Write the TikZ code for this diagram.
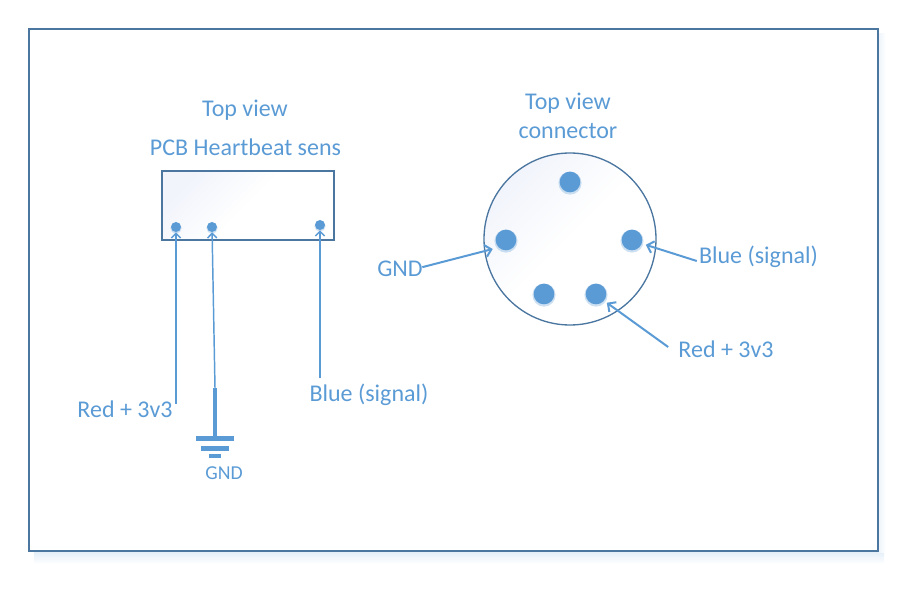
\documentclass[tikz,border=0pt]{standalone}
\usepackage{fontspec}
\setmainfont{Carlito}
\usetikzlibrary{arrows.meta,shadows}
\definecolor{framecol}{HTML}{4A76A0}
\definecolor{pincol}{HTML}{5B9BD5}
\definecolor{tintcol}{HTML}{F1F4FB}
\tikzset{
    lbl/.style={text=pincol,font=\fontsize{18}{21}\selectfont,inner sep=0pt},
    halo/.style={drop shadow={shadow xshift=0pt,shadow yshift=-0.7pt,shadow scale=1.12,opacity=0.3,fill=pincol}},
    bigpin/.style={circle,fill=pincol,minimum size=15.5pt,inner sep=0pt,halo},
    smallpin/.style={circle,fill=pincol,minimum size=7.5pt,inner sep=0pt,halo},
    wire/.style={pincol,line width=1.1pt,-{Straight Barb[length=3.5pt,width=7pt]}},
    thickwire/.style={wire,line width=1.5pt,-{Straight Barb[length=4.5pt,width=9pt]}},
    bar/.style={fill=pincol,draw=none},
    tinted/.style={left color=tintcol,right color=white,middle color=white,shading angle=45}
}
\begin{document}
\begin{tikzpicture}[x=0.75pt,y=-0.75pt]
        \useasboundingbox (0,0) rectangle (907,591);

        % frame
        \shade[top color=pincol!16,bottom color=white] (34,552) rectangle (884,564);
        \shade[left color=pincol!10,right color=white] (879,34) rectangle (886,552);
        \draw[framecol,line width=1.6pt] (29,29) rectangle (878,551);

        % pcb
        \path[tinted] (162,171) rectangle (334,240);
        \draw[framecol,line width=1.2pt] (162,171) rectangle (334,240);
        \node[smallpin] (pcbred) at (176,227) {};
        \node[smallpin] (pcbgnd) at (212,227) {};
        \node[smallpin] (pcbblue) at (320,225) {};

        \node[lbl] (pcbtop) at (245,110) {Top view};
        \node[lbl] (pcbname) at (245.5,147) {PCB Heartbeat sens};
        \node[lbl] (pcbredlbl) at (125,409) {Red + 3v3};
        \node[lbl] (pcbbluelbl) at (369,395) {Blue (signal)};
        \node[lbl,font=\fontsize{14.8}{17}\selectfont] (pcbgndlbl) at (224,473) {GND};

        \coordinate (redend) at (176,404);
        \coordinate (gndend) at (215,388);
        \coordinate (blueend) at (320,378);
        \coordinate (gndbar) at (215,437);
        \draw[wire] (redend) -- (pcbred);
        \draw[wire] (gndend) -- (pcbgnd);
        \draw[wire] (blueend) -- (pcbblue);

        % ground symbol
        \draw[pincol,line width=3pt] (gndend) -- (gndbar);
        \fill[bar] (196,436) rectangle (234,441);
        \fill[bar] (201,446) rectangle (229,451);
        \fill[bar] (209,454) rectangle (221,458);

        % connector
        \shade[tinted] (570,239) circle[radius=86];
        \node[draw=framecol,line width=1pt,circle,minimum size=129pt,inner sep=0pt] (conn) at (570,239) {};
        \node[bigpin] (connnc) at (570,182) {};
        \node[bigpin] (conngnd) at (506,240) {};
        \node[bigpin] (connblue) at (632,240) {};
        \node[bigpin] (connnc2) at (544,294) {};
        \node[bigpin] (connred) at (596,294) {};

        \node[lbl] (conntop) at (568,103) {Top view};
        \node[lbl] (connname) at (568,131) {connector};
        \node[lbl] (conngndlbl) at (400,268.5) {GND};
        \node[lbl] (connbluelbl) at (758.5,257) {Blue (signal)};
        \node[lbl] (connredlbl) at (726,349) {Red + 3v3};

        \draw[thickwire,shorten >=4.5pt] ([xshift=-0.5pt,yshift=1pt]conngndlbl.east) -- (conngnd.225);
        \draw[thickwire,shorten >=3pt] ([xshift=-1.5pt,yshift=-3pt]connbluelbl.west) -- (connblue.-20);
        \draw[thickwire,shorten >=2.5pt] ([xshift=-7.5pt,yshift=1.5pt]connredlbl.west) -- (connred.-40);

\end{tikzpicture}
\end{document}
